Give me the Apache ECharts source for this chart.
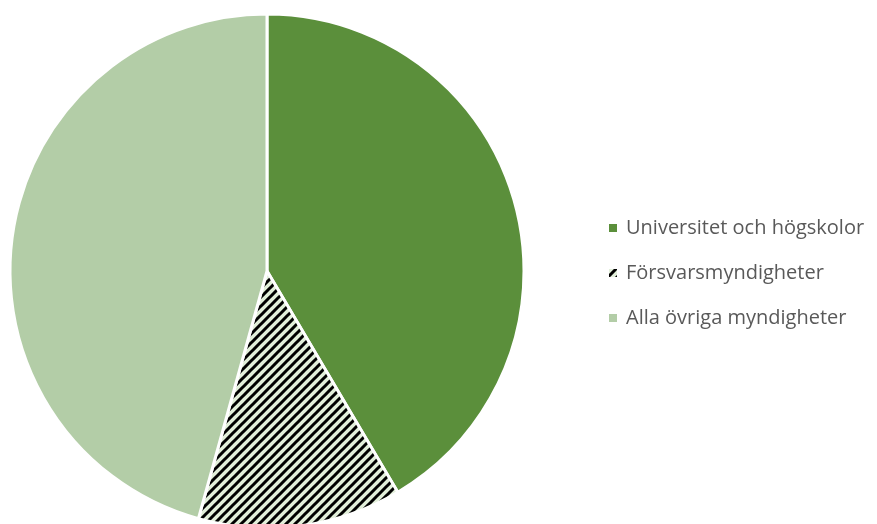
<!DOCTYPE html>
<html>
<head>
<meta charset="utf-8">
<script src="https://cdn.jsdelivr.net/npm/echarts@6/dist/echarts.min.js"></script>
<style>
html,body{margin:0;padding:0;background:#fff;}
#main{width:877px;height:524px;}
</style>
</head>
<body>
<div id="main"></div>
<script>
const categories = ['Universitet och högskolor', 'Försvarsmyndigheter', 'Alla övriga myndigheter'];
const shares = [41.5, 12.8, 45.7];

function hatch() {
  const s = 9;
  const c = document.createElement('canvas');
  c.width = s; c.height = s;
  const g = c.getContext('2d');
  g.fillStyle = '#e2efda';
  g.fillRect(0, 0, s, s);
  g.strokeStyle = '#000';
  g.lineWidth = 3;
  g.beginPath();
  g.moveTo(-2, s + 2); g.lineTo(s + 2, -2);
  g.moveTo(-2 - s, s + 2); g.lineTo(2, -2);
  g.moveTo(s - 2, s + 2); g.lineTo(2 * s + 2, -2);
  g.stroke();
  return c;
}

const colors = ['#5b8f3b', {image: hatch(), repeat: 'repeat'}, '#b3cda7'];

const chart = echarts.init(document.getElementById('main'), null, {renderer: 'canvas'});
chart.setOption({
  animation: false,
  legend: {
    orient: 'vertical',
    left: 607,
    top: 218,
    padding: 0,
    itemWidth: 10,
    itemHeight: 10,
    itemGap: 25,
    icon: 'rect',
    data: categories,
    textStyle: {
      fontFamily: 'Open Sans',
      fontSize: 20,
      color: '#595959',
      lineHeight: 20,
      padding: [0, 0, 0, 3]
    }
  },
  series: [{
    type: 'pie',
    center: [267, 271],
    radius: 257,
    startAngle: 90,
    clockwise: true,
    label: {show: false},
    labelLine: {show: false},
    emphasis: {disabled: true},
    itemStyle: {borderColor: '#fff', borderWidth: 3},
    data: categories.map((n, i) => ({name: n, value: shares[i], itemStyle: {color: colors[i]}}))
  }]
});
</script>
</body>
</html>
